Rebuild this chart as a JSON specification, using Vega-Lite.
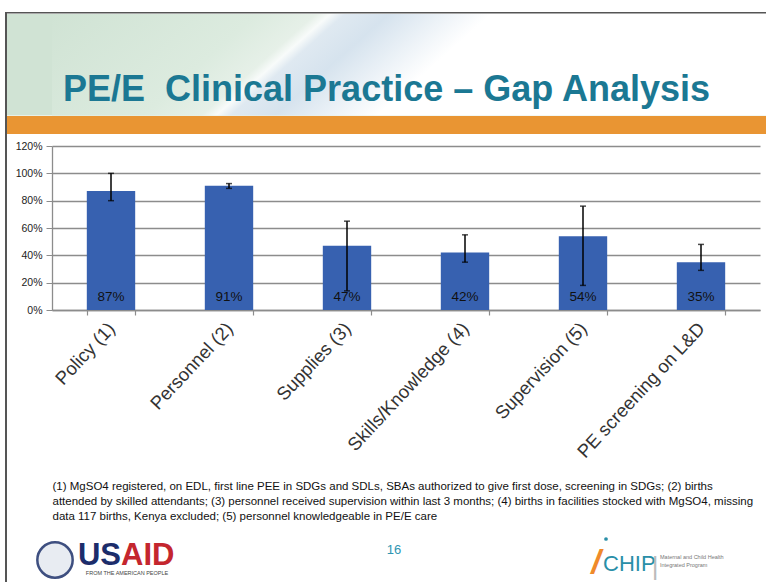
{
  "$schema": "https://vega.github.io/schema/vega-lite/v6.json",
  "padding": {"left": 5, "top": 12, "right": 0, "bottom": 0},
  "background": "white",
  "config": {"view": {"stroke": null}, "font": "Liberation Sans"},
  "spacing": 0,
  "hconcat": [
    {
      "width": 2,
      "height": 570,
      "data": {"values": [{"k": 1}]},
      "mark": {"type": "rect", "color": "#555555"},
      "encoding": {}
    },
    {
      "spacing": 7,
      "vconcat": [
        {
          "spacing": 0,
          "bounds": "flush",
          "vconcat": [
            {
              "width": 714,
              "height": 1.5,
              "data": {"values": [{"k": "a"}]},
              "mark": {"type": "rect", "color": "#555555", "width": 759, "xOffset": -22.5},
              "encoding": {"x": {"field": "k", "type": "nominal", "scale": {"paddingInner": 0, "paddingOuter": 0}, "axis": null}}
            },
            {
              "width": 714,
              "height": 101.5,
              "layer": [
                {
                  "data": {"values": [{"k": "a"}]},
                  "mark": {"type": "rect", "color": "#d0e3d4", "width": 759, "xOffset": -22.5},
                  "encoding": {"x": {"field": "k", "type": "nominal", "scale": {"paddingInner": 0, "paddingOuter": 0}, "axis": null}}
                },
                {
                  "data": {"values": [{"k": "b"}]},
                  "mark": {
                    "type": "rect",
                    "fill": {
                      "gradient": "linear",
                      "x1": 0, "y1": 0, "x2": 1, "y2": 0.16,
                      "stops": [
                        {"offset": 0, "color": "#d0e3d4"},
                        {"offset": 0.28, "color": "#dcebdf"},
                        {"offset": 0.36, "color": "#e6f0e8"},
                        {"offset": 0.38, "color": "#f8fbfa"},
                        {"offset": 0.4, "color": "#dfe9f1"},
                        {"offset": 0.46, "color": "#d6e3ee"},
                        {"offset": 0.6, "color": "#ffffff"},
                        {"offset": 1, "color": "#ffffff"}
                      ]
                    }
                  },
                  "encoding": {}
                },
                {
                  "data": {"values": [{"t": "PE/E\u00a0 Clinical Practice \u2013 Gap Analysis"}]},
                  "mark": {"type": "text", "fontSize": 36, "fontWeight": "bold", "color": "#1b7893", "baseline": "alphabetic", "align": "center", "dx": -22.5, "dy": 36},
                  "encoding": {"text": {"field": "t"}}
                }
              ]
            },
            {
              "width": 714,
              "height": 18,
              "data": {"values": [{"k": "a"}]},
              "mark": {"type": "rect", "color": "#e99533", "width": 759, "xOffset": -22.5},
              "encoding": {"x": {"field": "k", "type": "nominal", "scale": {"paddingInner": 0, "paddingOuter": 0}, "axis": null}}
            }
          ]
        },
        {
          "width": 708,
          "height": 164,
          "data": {
            "values": [
              {"cat": "Policy (1)", "value": 0.87, "lo": 0.80, "hi": 1.00},
              {"cat": "Personnel (2)", "value": 0.91, "lo": 0.89, "hi": 0.925},
              {"cat": "Supplies (3)", "value": 0.47, "lo": 0.14, "hi": 0.65},
              {"cat": "Skills/Knowledge (4)", "value": 0.42, "lo": 0.35, "hi": 0.55},
              {"cat": "Supervision (5)", "value": 0.54, "lo": 0.18, "hi": 0.76},
              {"cat": "PE screening on L&D", "value": 0.35, "lo": 0.29, "hi": 0.48}
            ]
          },
          "encoding": {
            "x": {
              "field": "cat",
              "type": "nominal",
              "sort": null,
              "scale": {"paddingInner": 0.59, "paddingOuter": 0.295},
              "axis": {
                "title": [
                  "(1) MgSO4 registered, on EDL, first line PEE in SDGs and SDLs, SBAs authorized to give first dose, screening in SDGs; (2) births",
                  "attended by skilled attendants; (3) personnel received supervision within last 3 months; (4) births in facilities stocked with MgSO4, missing",
                  "data 117 births, Kenya excluded; (5) personnel knowledgeable in PE/E care"
                ],
                "titleFontSize": 11.5,
                "titleFontWeight": "normal",
                "titleColor": "#111111",
                "titleAnchor": "start",
                "titleAlign": "left",
                "titleLineHeight": 15,
                "titlePadding": 20,
                "labelAngle": -47,
                "labelAlign": "right",
                "labelFontSize": 18.5,
                "labelColor": "#333333",
                "labelPadding": 10,
                "labelOverlap": false,
                "domainColor": "#8c8c8c",
                "domainWidth": 1.5,
                "tickColor": "#8c8c8c",
                "tickSize": 5,
                "tickWidth": 1.2,
                "tickBand": "extent"
              }
            }
          },
          "layer": [
            {
              "mark": {"type": "bar", "color": "#3761b0"},
              "encoding": {
                "y": {
                  "field": "value",
                  "type": "quantitative",
                  "title": null,
                  "scale": {"domain": [0, 1.2]},
                  "axis": {
                    "values": [0, 0.2, 0.4, 0.6, 0.8, 1.0, 1.2],
                    "tickCount": 8,
                    "format": ".0%",
                    "grid": true,
                    "gridColor": "#8c8c8c",
                    "gridWidth": 1.3,
                    "domainColor": "#8c8c8c",
                    "domainWidth": 1.3,
                    "tickColor": "#8c8c8c",
                    "tickSize": 6,
                    "labelFontSize": 10.5,
                    "labelColor": "#222222",
                    "labelPadding": 4,
                    "labelOverlap": false,
                    "minExtent": 45,
                    "maxExtent": 45
                  }
                }
              }
            },
            {
              "mark": {"type": "rule", "color": "black", "strokeWidth": 1.5},
              "encoding": {
                "y": {"field": "lo", "type": "quantitative", "title": null},
                "y2": {"field": "hi"}
              }
            },
            {
              "mark": {"type": "tick", "color": "black", "size": 6, "thickness": 1.5},
              "encoding": {"y": {"field": "lo", "type": "quantitative", "title": null}}
            },
            {
              "mark": {"type": "tick", "color": "black", "size": 6, "thickness": 1.5},
              "encoding": {"y": {"field": "hi", "type": "quantitative", "title": null}}
            },
            {
              "mark": {"type": "text", "fontSize": 13.5, "color": "#111111", "baseline": "middle", "dy": -13},
              "encoding": {
                "y": {"datum": 0, "type": "quantitative"},
                "text": {"field": "value", "type": "quantitative", "format": ".0%"}
              }
            }
          ]
        },
        {
          "width": 714,
          "height": 60,
          "encoding": {
            "x": {
              "field": "part",
              "type": "nominal",
              "scale": {"type": "point", "domain": ["left", "middle", "right"], "padding": 0.5},
              "axis": null
            }
          },
          "layer": [
            {
              "data": {"values": [{"part": "left"}]},
              "mark": {"type": "point", "shape": "circle", "size": 1250, "filled": true, "fill": "#e8ecf2", "stroke": "#3e4f80", "strokeWidth": 2.5, "opacity": 1, "xOffset": -116, "yOffset": 0}
            },
            {
              "data": {"values": [{"part": "left", "t": "US"}]},
              "mark": {"type": "text", "fontSize": 31, "fontWeight": "bold", "color": "#1c2d6b", "align": "right", "baseline": "alphabetic", "dx": -50, "dy": 5},
              "encoding": {"text": {"field": "t"}}
            },
            {
              "data": {"values": [{"part": "left", "t": "AID"}]},
              "mark": {"type": "text", "fontSize": 31, "fontWeight": "bold", "color": "#c4262e", "align": "left", "baseline": "alphabetic", "dx": -50, "dy": 5},
              "encoding": {"text": {"field": "t"}}
            },
            {
              "data": {"values": [{"part": "left", "t": "FROM THE AMERICAN PEOPLE"}]},
              "mark": {"type": "text", "fontSize": 5.5, "color": "#444444", "align": "center", "baseline": "alphabetic", "dx": -44, "dy": 15},
              "encoding": {"text": {"field": "t"}}
            },
            {
              "data": {"values": [{"part": "middle", "t": "16"}]},
              "mark": {"type": "text", "fontSize": 13, "color": "#2f95b2", "align": "center", "baseline": "alphabetic", "dx": -15, "dy": -6},
              "encoding": {"text": {"field": "t"}}
            },
            {
              "data": {"values": [{"part": "right", "t": "/"}]},
              "mark": {"type": "text", "fontSize": 34, "fontWeight": "bold", "fontStyle": "italic", "color": "#ef8a2a", "align": "center", "baseline": "alphabetic", "dx": -51, "dy": 13},
              "encoding": {"text": {"field": "t"}}
            },
            {
              "data": {"values": [{"part": "right"}]},
              "mark": {"type": "point", "shape": "circle", "size": 14, "filled": true, "color": "#2a8fa8", "opacity": 1, "xOffset": -41, "yOffset": -21}
            },
            {
              "data": {"values": [{"part": "right", "t": "CHIP"}]},
              "mark": {"type": "text", "fontSize": 22, "color": "#2a8fa8", "align": "left", "baseline": "alphabetic", "dx": -44, "dy": 11},
              "encoding": {"text": {"field": "t"}}
            },
            {
              "data": {"values": [{"part": "right", "t": "|"}]},
              "mark": {"type": "text", "fontSize": 26, "color": "#bbbbbb", "align": "center", "baseline": "alphabetic", "dx": 8, "dy": 15},
              "encoding": {"text": {"field": "t"}}
            },
            {
              "data": {"values": [{"part": "right", "t": "Maternal and Child Health"}]},
              "mark": {"type": "text", "fontSize": 5.5, "color": "#777777", "align": "left", "baseline": "alphabetic", "dx": 13, "dy": -1},
              "encoding": {"text": {"field": "t"}}
            },
            {
              "data": {"values": [{"part": "right", "t": "Integrated Program"}]},
              "mark": {"type": "text", "fontSize": 5.5, "color": "#777777", "align": "left", "baseline": "alphabetic", "dx": 13, "dy": 7},
              "encoding": {"text": {"field": "t"}}
            }
          ]
        }
      ]
    }
  ]
}
